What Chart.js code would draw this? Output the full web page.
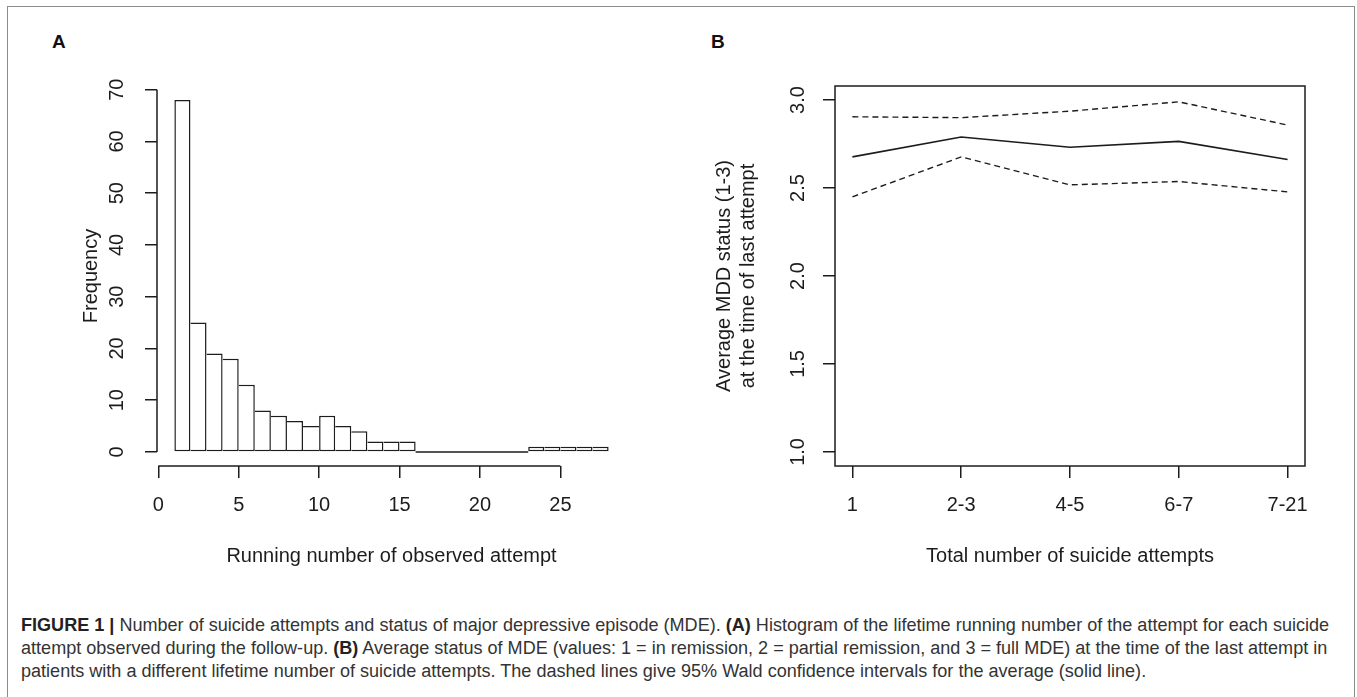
<!DOCTYPE html>
<html><head><meta charset="utf-8">
<script src="https://cdn.jsdelivr.net/npm/chart.js@4.4.1/dist/chart.umd.min.js"></script>
<style>
html,body{margin:0;padding:0;background:#fff;width:1357px;height:697px;overflow:hidden;}
#frame{position:absolute;left:7px;top:6px;width:1348px;height:740px;border:1.5px solid #8c8c8c;border-bottom:none;box-sizing:border-box;}
.panel{position:absolute;font:bold 19px "Liberation Sans",Arial,sans-serif;color:#111;line-height:19px;}
canvas{position:absolute;top:0;}
#caption{position:absolute;left:21px;top:614px;font-family:"Liberation Sans",Arial,sans-serif;color:#333;font-size:17px;line-height:23px;}
#caption div{white-space:nowrap;}
#caption b{color:#222;}
</style></head>
<body>
<div id="frame"></div>
<div class="panel" style="left:52px;top:32px">A</div>
<div class="panel" style="left:711px;top:32px">B</div>
<canvas id="cA" width="690" height="580" style="left:0"></canvas>
<canvas id="cB" width="667" height="580" style="left:690px"></canvas>
<div id="caption">
<div id="cap1"><b>FIGURE 1 |</b> Number of suicide attempts and status of major depressive episode (MDE). <b>(A)</b> Histogram of the lifetime running number of the attempt for each suicide</div>
<div>attempt observed during the follow-up. <b>(B)</b> Average status of MDE (values: 1 = in remission, 2 = partial remission, and 3 = full MDE) at the time of the last attempt in</div>
<div>patients with a different lifetime number of suicide attempts. The dashed lines give 95% Wald confidence intervals for the average (solid line).</div>
</div>
<script>
// ---------- data: panel A (histogram) ----------
const histBinStart = [1,2,3,4,5,6,7,8,9,10,11,12,13,14,15,16,17,18,19,20,21,22,23,24,25,26,27];
const histCounts   = [68,25,19,18,13,8,7,6,5,7,5,4,2,2,2,0,0,0,0,0,0,0,1,1,1,1,1];
const binWidth = 1;
const xTicksA = [0,5,10,15,20,25];
const yTicksA = [0,10,20,30,40,50,60,70];

// ---------- data: panel B (means with 95% CI) ----------
const categoriesB = ['1','2-3','4-5','6-7','7-21'];
const positionsB  = [1,2,3,4,5];
const meanB  = [2.677,2.79,2.732,2.765,2.662];
const upperB = [2.905,2.90,2.937,2.99,2.858];
const lowerB = [2.45,2.677,2.518,2.537,2.478];
const yTicksB = [1.0,1.5,2.0,2.5,3.0];
const yRangeB = [1,3];

// ---------- styling ----------
const FAMILY = '"Liberation Sans", Arial, sans-serif';
const ink = '#1c1c1c';
const tickFont = {family: FAMILY, size: 20, lineHeight: 1.2};
const titleFont = {family: FAMILY, size: 20, lineHeight: 1.2};
const mctx = document.createElement('canvas').getContext('2d');
function textW(t, f){ mctx.font = f.size + 'px ' + f.family; return mctx.measureText(t).width; }

// R-like axis extension (4%)
const xLoA = histBinStart[0], xHiA = histBinStart[histBinStart.length-1] + binWidth;
const xPadA = (xHiA - xLoA) * 0.04;
const yHiA = Math.max(...histCounts), yPadA = yHiA * 0.04;
const xPadB = (positionsB[positionsB.length-1] - positionsB[0]) * 0.04;
const yPadB = (yRangeB[1] - yRangeB[0]) * 0.04;

const TL = 12;
const widestA = Math.max(...yTicksA.map(v => textW(String(v), tickFont)));
const widestB = Math.max(...yTicksB.map(v => textW(v.toFixed(1), tickFont)));
const yLabPadA = 157 - TL - 117 - widestA/2;
const yLabPadB = 145 - TL - 108 - widestB/2;
const xLabPad = 505.5 - 466 - TL - tickFont.size*tickFont.lineHeight/2;

const gridOpts = {display:true, drawOnChartArea:false, drawTicks:true, tickLength:TL, color:ink, lineWidth:1.5, offset:false};

// axis lines spanning first..last tick (panel A, R style)
const rAxesA = {
  id:'rAxesA',
  afterDraw(chart){
    const {ctx, chartArea:ca, scales:{x, y}} = chart;
    ctx.save(); ctx.strokeStyle = ink; ctx.lineWidth = 1.5; ctx.beginPath();
    ctx.moveTo(x.getPixelForValue(xTicksA[0]), ca.bottom);
    ctx.lineTo(x.getPixelForValue(xTicksA[xTicksA.length-1]), ca.bottom);
    ctx.moveTo(ca.left, y.getPixelForValue(yTicksA[0]));
    ctx.lineTo(ca.left, y.getPixelForValue(yTicksA[yTicksA.length-1]));
    ctx.stroke(); ctx.restore();
  }
};
const boxB = {
  id:'boxB',
  afterDraw(chart){
    const {ctx, chartArea:ca} = chart;
    ctx.save(); ctx.strokeStyle = ink; ctx.lineWidth = 1.5;
    ctx.strokeRect(ca.left, ca.top, ca.right-ca.left, ca.bottom-ca.top);
    ctx.restore();
  }
};

// zero-count bins are drawn as a line on the baseline (like R's hist)
const zeroRun = [];
histCounts.forEach((c,i) => { if (c === 0) { zeroRun.push({x: histBinStart[i], y: 0}, {x: histBinStart[i] + binWidth, y: 0}); } });

const bw = 1.5;
function barBorder(ctx){
  const i = ctx.dataIndex, c = histCounts, n = c.length;
  return {
    top: bw, bottom: bw,
    left: (i === 0 || c[i-1] < c[i]) ? bw : 0,
    right: (i === n-1 || c[i+1] <= c[i]) ? bw : 0
  };
}

new Chart(document.getElementById('cA'), {
  type: 'bar',
  data: {
    datasets: [
      {
        type:'bar',
        data: histCounts.map((c,i) => ({x: histBinStart[i] + binWidth/2, y: c})),
        backgroundColor:'#ffffff', borderColor: ink, borderWidth: barBorder,
        borderSkipped:false, barPercentage:1, categoryPercentage:1, inflateAmount:0
      },
      {
        type:'line', data: zeroRun, borderColor: ink, borderWidth: 1.5,
        pointRadius:0, fill:false, tension:0
      }
    ]
  },
  options: {
    responsive:false, animation:false, devicePixelRatio:1,
    layout:{padding:{left:0, right:64, top:86, bottom:0}},
    plugins:{legend:{display:false}, tooltip:{enabled:false}},
    scales:{
      x:{
        type:'linear', min: xLoA - xPadA, max: xHiA + xPadA, offset:false,
        afterBuildTicks: s => { s.ticks = xTicksA.map(v => ({value:v})); },
        afterFit: s => { s.height = 114; },
        grid: gridOpts, border:{display:false},
        ticks:{font:tickFont, color:ink, padding:xLabPad, maxRotation:0, autoSkip:false, callback: v => String(v)},
        title:{display:true, text:'Running number of observed attempt', font:titleFont, color:ink, padding:{top:0, bottom:12}}
      },
      y:{
        type:'linear', min: -yPadA, max: yHiA + yPadA,
        afterBuildTicks: s => { s.ticks = yTicksA.map(v => ({value:v})); },
        afterFit: s => { s.width = 157; },
        grid: gridOpts, border:{display:false},
        ticks:{font:tickFont, color:ink, padding:yLabPadA, minRotation:90, maxRotation:90, crossAlign:'center', autoSkip:false, callback: v => String(v)},
        title:{display:true, text:'Frequency', font:titleFont, color:ink, padding:{top:79, bottom:0}}
      }
    }
  },
  plugins:[rAxesA]
});

const lineDs = (vals, dash, w) => ({
  data: positionsB.map((x,i) => ({x, y: vals[i]})),
  borderColor: ink, borderWidth: w, borderDash: dash, pointRadius:0, fill:false, tension:0
});

new Chart(document.getElementById('cB'), {
  type: 'line',
  data: { datasets: [ lineDs(upperB,[6,4],1.4), lineDs(meanB,[],1.6), lineDs(lowerB,[6,4],1.4) ] },
  options: {
    responsive:false, animation:false, devicePixelRatio:1,
    layout:{padding:{left:0, right:52, top:86, bottom:0}},
    plugins:{legend:{display:false}, tooltip:{enabled:false}},
    scales:{
      x:{
        type:'linear', min: positionsB[0] - xPadB, max: positionsB[positionsB.length-1] + xPadB, offset:false,
        afterBuildTicks: s => { s.ticks = positionsB.map(v => ({value:v})); },
        afterFit: s => { s.height = 114; },
        grid: gridOpts, border:{display:false},
        ticks:{font:tickFont, color:ink, padding:xLabPad, maxRotation:0, autoSkip:false, callback: v => categoriesB[positionsB.indexOf(v)]},
        title:{display:true, text:'Total number of suicide attempts', font:titleFont, color:ink, padding:{top:0, bottom:12}}
      },
      y:{
        type:'linear', min: yRangeB[0] - yPadB, max: yRangeB[1] + yPadB,
        afterBuildTicks: s => { s.ticks = yTicksB.map(v => ({value:v})); },
        afterFit: s => { s.width = 145; },
        grid: gridOpts, border:{display:false},
        ticks:{font:tickFont, color:ink, padding:yLabPadB, minRotation:90, maxRotation:90, crossAlign:'center', autoSkip:false, callback: v => Number(v).toFixed(1)},
        title:{display:true, text:['Average MDD status (1-3)','at the time of last attempt'], font:titleFont, color:ink, padding:{top:22, bottom:0}}
      }
    }
  },
  plugins:[boxB]
});

// fit caption font so the first line spans the same width as the reference
(function(){
  const cap = document.getElementById('caption');
  const l1 = document.getElementById('cap1');
  const s = document.createElement('span'); s.innerHTML = l1.innerHTML; s.style.whiteSpace='nowrap';
  l1.innerHTML=''; l1.appendChild(s);
  const w = s.getBoundingClientRect().width;
  cap.style.fontSize = (17 * 1309 / w).toFixed(2) + 'px';
})();
</script>
</body></html>
